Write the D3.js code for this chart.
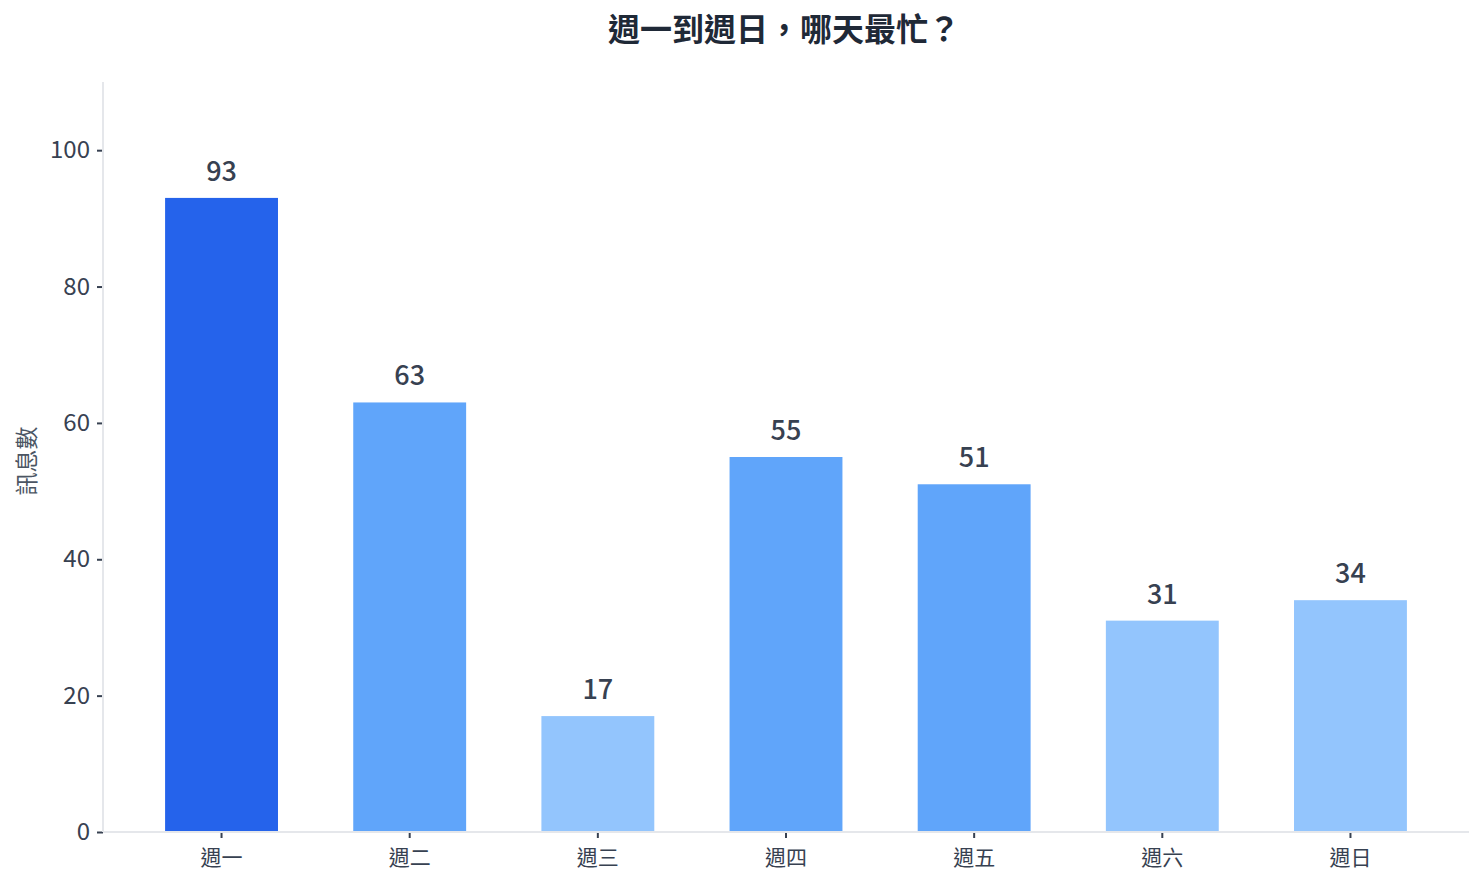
<!DOCTYPE html>
<html>
<head>
<meta charset="utf-8">
<script src="https://cdn.jsdelivr.net/npm/d3@7"></script>
<style>
  html, body { margin: 0; padding: 0; background: #ffffff; }
  svg { display: block; font-family: "Noto Sans CJK TC", "Noto Sans", sans-serif; }
</style>
</head>
<body>
<svg id="chart" width="1483" height="887"></svg>
<script>
const title = "週一到週日，哪天最忙？";
const yLabel = "訊息數";
const days = ["週一", "週二", "週三", "週四", "週五", "週六", "週日"];
const counts = [93, 63, 17, 55, 51, 31, 34];
const yTicks = [0, 20, 40, 60, 80, 100];
const colors = ["#2563eb", "#60a5fa", "#93c5fd"];

(function () {
function colorFor(v) {
  if (v >= 80) return colors[0];
  if (v >= 40) return colors[1];
  return colors[2];
}

const svg = d3.select("#chart");
const pLeft = 103, pRight = 1469, pTop = 82, pBottom = 832;

const x = d3.scaleBand().domain(days).range([pLeft, pRight]).paddingInner(0.4).paddingOuter(0.33);
const y = d3.scaleLinear().domain([0, 110]).range([pBottom, pTop]);

// title
svg.append("text")
  .attr("x", 784).attr("y", 41)
  .attr("text-anchor", "middle")
  .attr("font-size", 32).attr("font-weight", 700)
  .attr("fill", "#1f2937")
  .text(title);

// bars
svg.append("g").selectAll("rect").data(days).join("rect")
  .attr("x", d => x(d))
  .attr("width", x.bandwidth())
  .attr("y", (d, i) => y(counts[i]))
  .attr("height", (d, i) => y(0) - y(counts[i]))
  .attr("fill", (d, i) => colorFor(counts[i]));

// value labels
svg.append("g").selectAll("text").data(days).join("text")
  .attr("x", d => x(d) + x.bandwidth() / 2)
  .attr("y", (d, i) => y(counts[i]) - 17)
  .attr("text-anchor", "middle")
  .attr("font-size", 27).attr("font-weight", 500)
  .attr("fill", "#374151")
  .text((d, i) => counts[i]);

// y axis
const yAxis = svg.append("g").attr("transform", `translate(${pLeft},0)`)
  .call(d3.axisLeft(y).tickValues(yTicks).tickSize(6).tickPadding(7));
yAxis.select(".domain").remove();
yAxis.selectAll(".tick line").attr("stroke", "#374151").attr("stroke-width", 2);
yAxis.selectAll(".tick text").attr("font-size", 24).attr("fill", "#374151")
  .attr("font-family", "'Noto Sans CJK TC', sans-serif");
svg.append("line").attr("x1", pLeft).attr("x2", pLeft).attr("y1", pTop).attr("y2", pBottom)
  .attr("stroke", "#e5e7eb").attr("stroke-width", 2);

// x axis
const xAxis = svg.append("g").attr("transform", `translate(0,${pBottom})`)
  .call(d3.axisBottom(x).tickSize(6).tickPadding(12));
xAxis.select(".domain").remove();
xAxis.selectAll(".tick line").attr("stroke", "#374151").attr("stroke-width", 2);
xAxis.selectAll(".tick text").attr("font-size", 21).attr("fill", "#374151")
  .attr("font-family", "'Noto Sans CJK TC', sans-serif");
svg.append("line").attr("x1", pLeft).attr("x2", pRight).attr("y1", pBottom).attr("y2", pBottom)
  .attr("stroke", "#e5e7eb").attr("stroke-width", 2);

// y label
svg.append("text")
  .attr("transform", `translate(35,${(pTop + pBottom) / 2 + 4}) rotate(-90)`)
  .attr("text-anchor", "middle")
  .attr("font-size", 23)
  .attr("fill", "#4b5563")
  .text(yLabel);
})();
</script>
</body>
</html>
